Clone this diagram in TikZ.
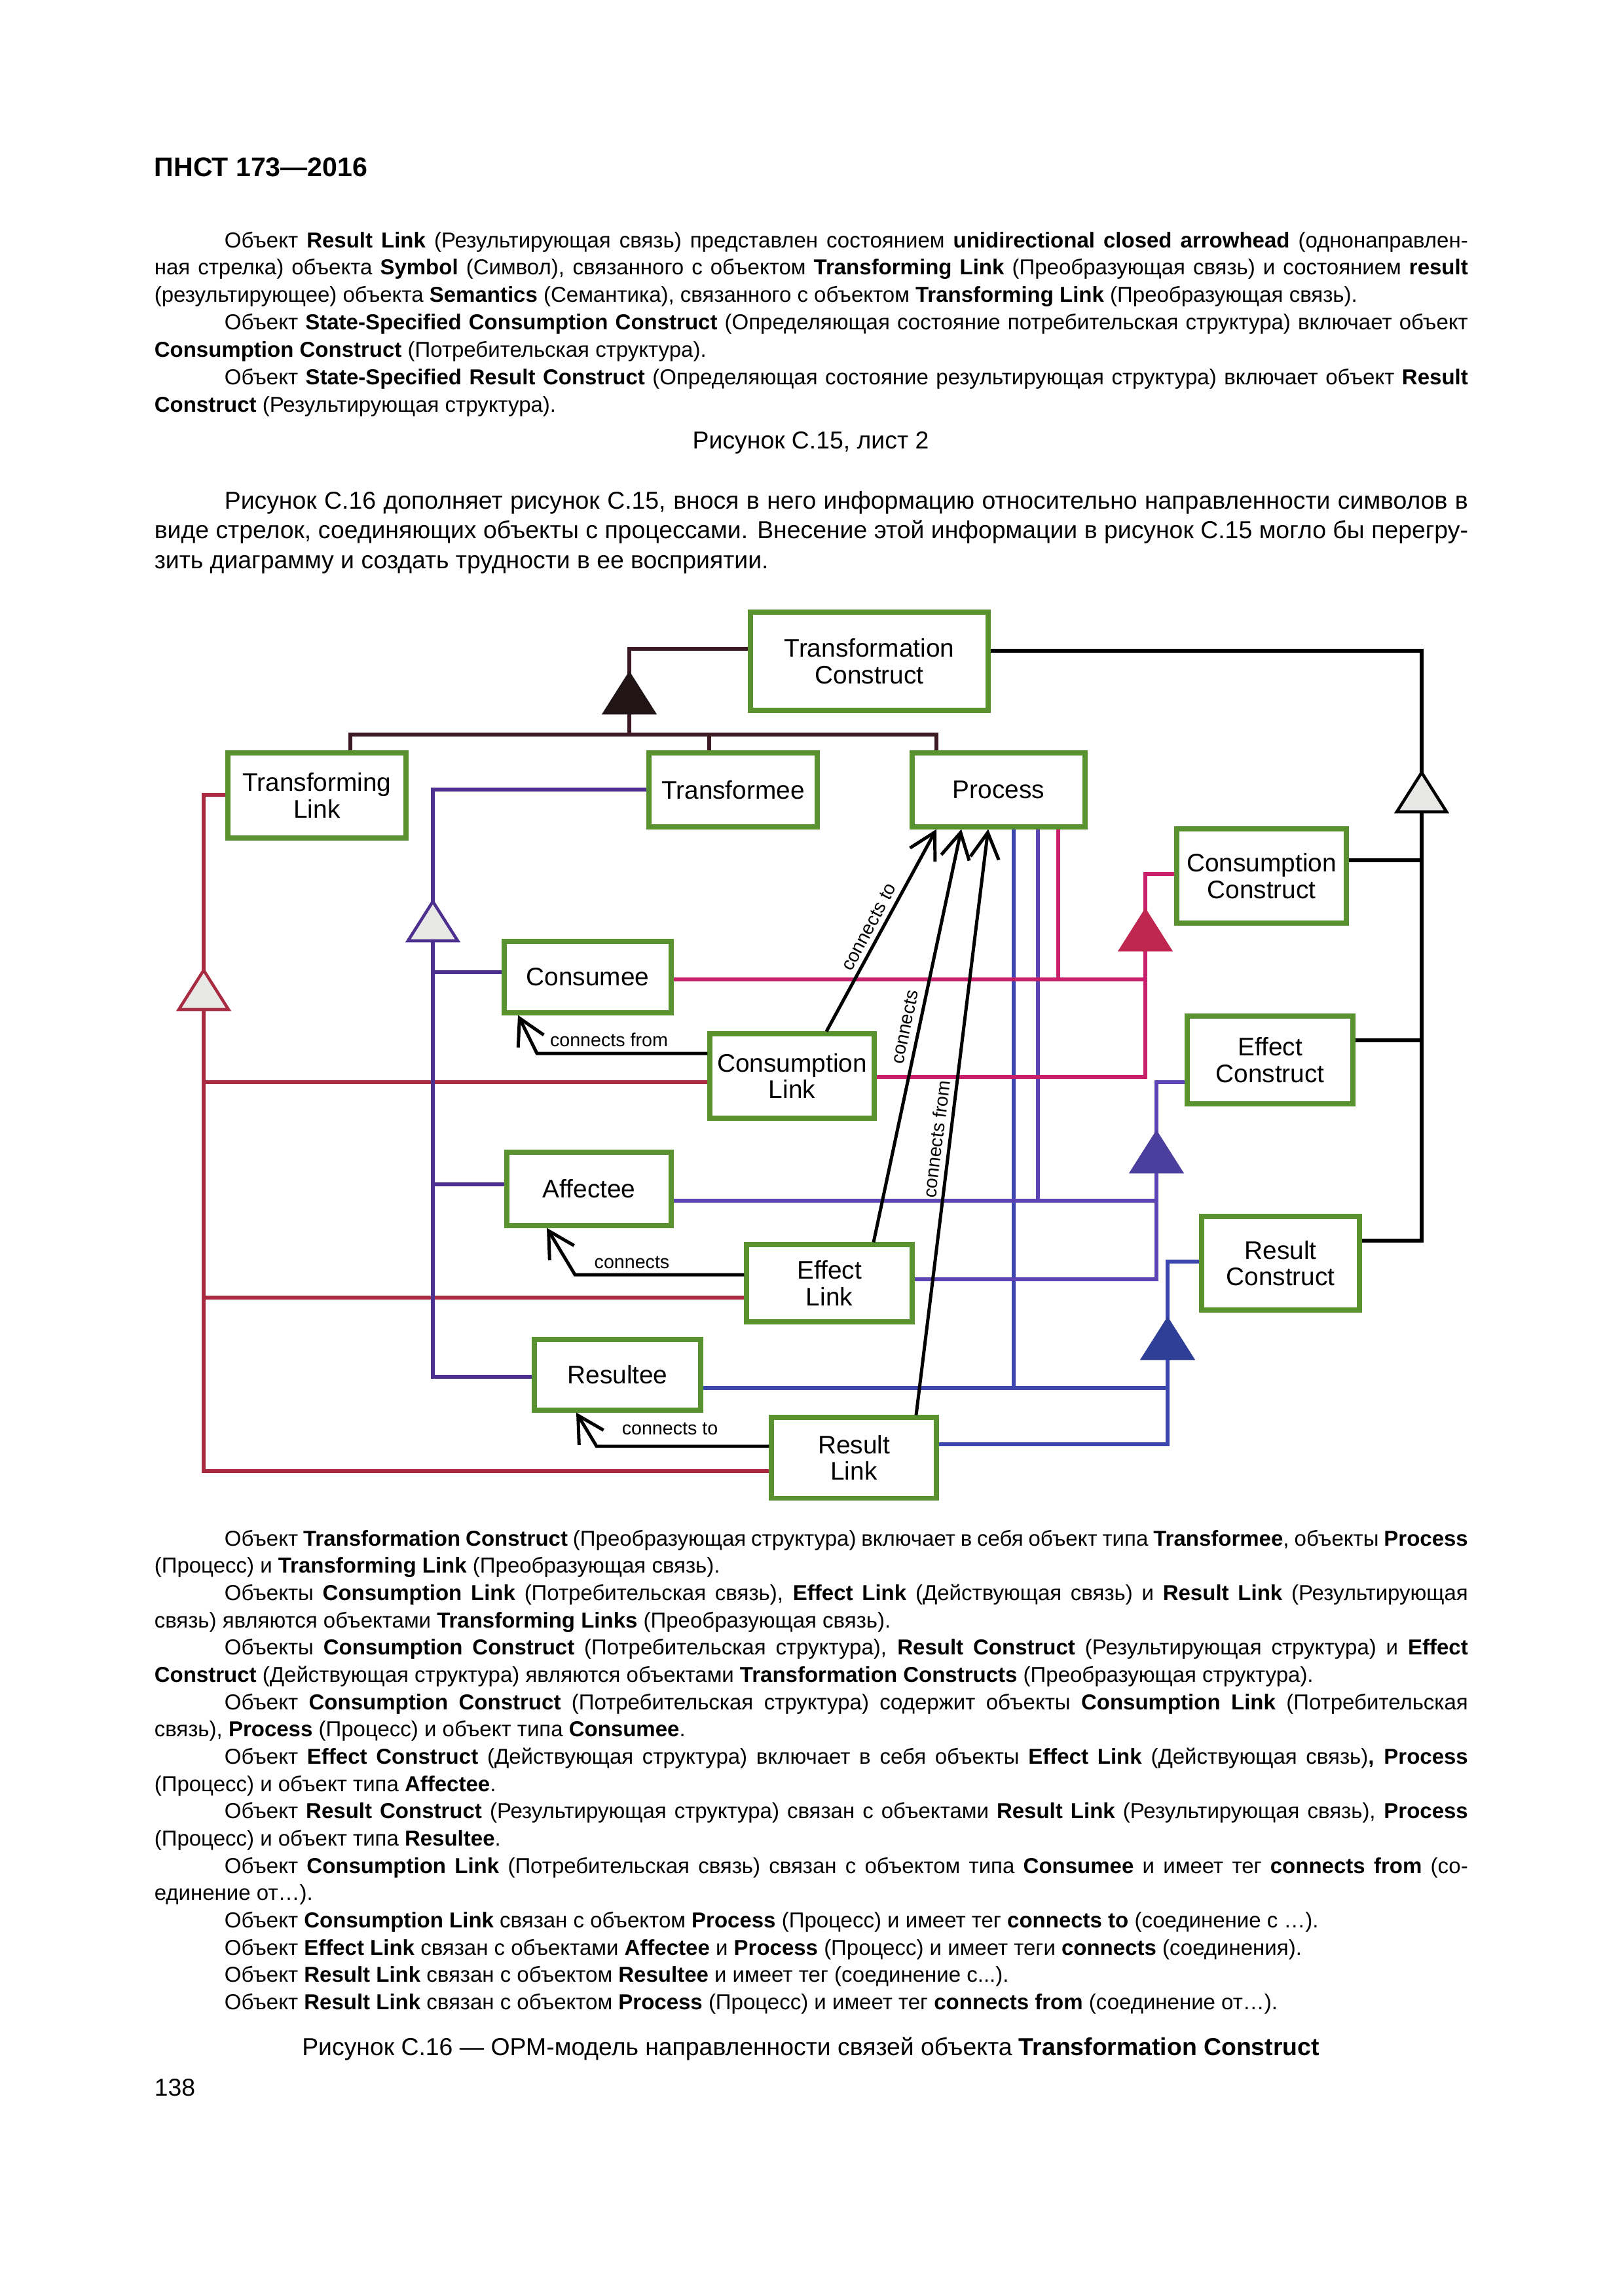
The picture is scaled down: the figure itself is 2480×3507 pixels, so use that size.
\documentclass[tikz,border=0pt]{standalone}
\usepackage{fontspec}
\setmainfont{Liberation Sans}
\usetikzlibrary{arrows.meta}
\newdimen\pxu \pxu=0.24090pt
\newdimen\TW \TW=2006\pxu
\newcommand\PX[1]{\the\dimexpr #1\pxu\relax}
\newcommand\J[1]{\hbox to\TW{#1}}
\newcommand\N[1]{\hbox{#1}}
\newcommand\I{\hskip 107\pxu}
\definecolor{boxgreen}{HTML}{5A9230}
\definecolor{maroonC}{HTML}{3C1A24}
\definecolor{blackF}{HTML}{201416}
\definecolor{redC}{HTML}{A92B42}
\definecolor{purpC}{HTML}{4C2F8E}
\definecolor{pinkC}{HTML}{C9206B}
\definecolor{pinkF}{HTML}{BF2650}
\definecolor{effC}{HTML}{5C44B2}
\definecolor{effF}{HTML}{4B3E9D}
\definecolor{resC}{HTML}{3B46AE}
\definecolor{resF}{HTML}{2F3E97}
\definecolor{triF}{HTML}{E8E8E6}
\newcommand\tri[3]{\filldraw[line width=1.1pt, line join=miter, draw=#2, fill=#3] (#1) -- ++(-38,60) -- ++(76,0) -- cycle;}
\begin{document}
\begin{tikzpicture}[x=0.2409pt, y=-0.2409pt,
 obox/.style={draw=boxgreen, line width=1.7pt, fill=white, inner sep=0pt, align=center, font=\fontsize{9.35}{9.8}\selectfont},
 ln/.style={line width=1.3pt},
 arr/.style={line width=1.2pt, black, -{Straight Barb[length=9.5pt,width=10.5pt]}},
 lbl/.style={inner sep=0pt, font=\fontsize{6.9}{8}\selectfont},
 txt/.style={inner sep=0pt, anchor=base west}]
\fill[white] (0,0) rectangle (2480,3507);
\useasboundingbox (0,0) rectangle (2480,3507);

% ---------- page text ----------
\node[txt, font=\bfseries\fontsize{9.9}{11}\selectfont] (head) at (235,269) {ПНСТ 173—2016};

\node[txt, font=\fontsize{7.95}{10.1}\selectfont] (ptop) at (235,378) {\vtop{%
\J{\I Объект \textbf{Result Link} (Результирующая связь) представлен состоянием \textbf{unidirectional closed arrowhead} (однонаправлен-}
\J{ная стрелка) объекта \textbf{Symbol} (Символ), связанного с объектом \textbf{Transforming Link} (Преобразующая связь) и состоянием \textbf{result}}
\N{(результирующее) объекта \textbf{Semantics} (Семантика), связанного с объектом \textbf{Transforming Link} (Преобразующая связь).}
\J{\I Объект \textbf{State-Specified Consumption Construct} (Определяющая состояние потребительская структура) включает объект}
\N{\textbf{Consumption Construct} (Потребительская структура).}
\J{\I Объект \textbf{State-Specified Result Construct} (Определяющая состояние результирующая структура) включает объект \textbf{Result}}
\N{\textbf{Construct} (Результирующая структура).}%
}};

\node[inner sep=0pt, anchor=base, font=\fontsize{9}{11}\selectfont] (cap15) at (1238,685) {Рисунок С.15, лист 2};

\node[txt, font=\fontsize{9}{11}\selectfont] (p4) at (235,777) {\vtop{%
\J{\I Рисунок С.16 дополняет рисунок С.15, внося в него информацию относительно направленности символов в}
\J{виде стрелок, соединяющих объекты с процессами. Внесение этой информации в рисунок С.15 могло бы перегру-}
\N{зить диаграмму и создать трудности в ее восприятии.}%
}};

\node[txt, font=\fontsize{7.95}{10.04}\selectfont] (pbot) at (235,2361) {\vtop{%
\J{\I Объект \textbf{Transformation Construct} (Преобразующая структура) включает в себя объект типа \textbf{Transformee}, объекты \textbf{Process}}
\N{(Процесс) и \textbf{Transforming Link} (Преобразующая связь).}
\J{\I Объекты \textbf{Consumption Link} (Потребительская связь), \textbf{Effect Link} (Действующая связь) и \textbf{Result Link} (Результирующая}
\N{связь) являются объектами \textbf{Transforming Links} (Преобразующая связь).}
\J{\I Объекты \textbf{Consumption Construct} (Потребительская структура), \textbf{Result Construct} (Результирующая структура) и \textbf{Effect}}
\N{\textbf{Construct} (Действующая структура) являются объектами \textbf{Transformation Constructs} (Преобразующая структура).}
\J{\I Объект \textbf{Consumption Construct} (Потребительская структура) содержит объекты \textbf{Consumption Link} (Потребительская}
\N{связь), \textbf{Process} (Процесс) и объект типа \textbf{Consumee}.}
\J{\I Объект \textbf{Effect Construct} (Действующая структура) включает в себя объекты \textbf{Effect Link} (Действующая связь)\textbf{, Process}}
\N{(Процесс) и объект типа \textbf{Affectee}.}
\J{\I Объект \textbf{Result Construct} (Результирующая структура) связан с объектами \textbf{Result Link} (Результирующая связь), \textbf{Process}}
\N{(Процесс) и объект типа \textbf{Resultee}.}
\J{\I Объект \textbf{Consumption Link} (Потребительская связь) связан с объектом типа \textbf{Consumee} и имеет тег \textbf{connects from} (со-}
\N{единение от…).}
\N{\I Объект \textbf{Consumption Link} связан с объектом \textbf{Process} (Процесс) и имеет тег \textbf{connects to} (соединение с …).}
\N{\I Объект \textbf{Effect Link} связан с объектами \textbf{Affectee} и \textbf{Process} (Процесс) и имеет теги \textbf{connects} (соединения).}
\N{\I Объект \textbf{Result Link} связан с объектом \textbf{Resultee} и имеет тег (соединение с...).}
\N{\I Объект \textbf{Result Link} связан с объектом \textbf{Process} (Процесс) и имеет тег \textbf{connects from} (соединение от…).}%
}};

\node[inner sep=0pt, anchor=base, font=\fontsize{9}{11}\selectfont] (cap16) at (1238,3139) {Рисунок С.16 — ОРМ-модель направленности связей объекта \textbf{Transformation Construct}};
\node[txt, font=\fontsize{9}{11}\selectfont] (pgno) at (235,3201) {138};

% ---------- boxes ----------
\node[obox, minimum width=\PX{363}, minimum height=\PX{150}] (TC) at (1327.5,1010) {Transformation\\Construct};
\node[obox, minimum width=\PX{272}, minimum height=\PX{130}] (TL) at (484,1215) {Transforming\\Link};
\node[obox, minimum width=\PX{257}, minimum height=\PX{113}] (Tfe) at (1119.5,1206.5) {Transformee};
\node[obox, minimum width=\PX{264}, minimum height=\PX{113}] (P) at (1525,1206.5) {Process};
\node[obox, minimum width=\PX{259}, minimum height=\PX{144}] (CC) at (1926.5,1338) {Consumption\\Construct};
\node[obox, minimum width=\PX{253}, minimum height=\PX{134}] (EC) at (1939.5,1619) {Effect\\Construct};
\node[obox, minimum width=\PX{241}, minimum height=\PX{143}] (RC) at (1955.5,1929.5) {Result\\Construct};
\node[obox, minimum width=\PX{255}, minimum height=\PX{109}] (Cme) at (897.5,1492.5) {Consumee};
\node[obox, minimum width=\PX{251}, minimum height=\PX{129}] (CL) at (1209.5,1643.5) {Consumption\\Link};
\node[obox, minimum width=\PX{251}, minimum height=\PX{112}] (Afe) at (899.5,1816) {Affectee};
\node[obox, minimum width=\PX{253}, minimum height=\PX{118}] (EL) at (1266.5,1960) {Effect\\Link};
\node[obox, minimum width=\PX{254}, minimum height=\PX{108}] (Rte) at (943,2100) {Resultee};
\node[obox, minimum width=\PX{252}, minimum height=\PX{123}] (RL) at (1304,2226.5) {Result\\Link};

% ---------- junction coordinates ----------
\coordinate (tj) at (961,991);   \coordinate (ta) at (961,1029);
\coordinate (tb) at (961,1089);  \coordinate (hb) at (961,1122);
\coordinate (tlj) at (535,1122); \coordinate (tfj) at (1083,1122); \coordinate (prj) at (1430,1122);

\coordinate (rj) at (2171,994);  \coordinate (ra) at (2171,1180); \coordinate (rb) at (2171,1240);
\coordinate (rv1) at (2171,1314); \coordinate (rv2) at (2171,1589); \coordinate (rv3) at (2171,1895);

\coordinate (rdj) at (311,1214); \coordinate (rda) at (311,1482); \coordinate (rdb) at (311,1542);
\coordinate (rd1) at (311,1653); \coordinate (rd2) at (311,1982); \coordinate (rd3) at (311,2247);

\coordinate (pj) at (661,1206);  \coordinate (pa) at (661,1377); \coordinate (pb) at (661,1437);
\coordinate (pv1) at (661,1485); \coordinate (pv2) at (661,1809); \coordinate (pv3) at (661,2103);

\coordinate (cj) at (1749,1335); \coordinate (ca) at (1749,1391); \coordinate (cb) at (1749,1451);
\coordinate (ch) at (1749,1496); \coordinate (cl) at (1749,1645); \coordinate (cpx) at (1616,1496);

\coordinate (ej) at (1766,1653); \coordinate (ea) at (1766,1730); \coordinate (eb) at (1766,1790);
\coordinate (eh) at (1766,1834); \coordinate (el) at (1766,1954); \coordinate (epx) at (1585,1834);

\coordinate (sj) at (1783,1927); \coordinate (sa) at (1783,2015); \coordinate (sb) at (1783,2075);
\coordinate (sh) at (1783,2120); \coordinate (sl) at (1783,2206); \coordinate (spx) at (1548,2120);

% ---------- coloured structure lines ----------
\draw[ln, maroonC] (TC.west |- tj) -- (tj) -- (ta);
\draw[ln, maroonC] (tb) -- (hb);
\draw[ln, maroonC] (tlj |- TL.north) -- (tlj) -- (prj) -- (prj |- P.north);
\draw[ln, maroonC] (tfj) -- (tfj |- Tfe.north);

\draw[ln, black] (TC.east |- rj) -- (rj) -- (ra);
\draw[ln, black] (rb) -- (rv3) -- (RC.east |- rv3);
\draw[ln, black] (rv1) -- (CC.east |- rv1);
\draw[ln, black] (rv2) -- (EC.east |- rv2);

\draw[ln, redC] (TL.west |- rdj) -- (rdj) -- (rda);
\draw[ln, redC] (rdb) -- (rd3) -- (RL.west |- rd3);
\draw[ln, redC] (rd1) -- (CL.west |- rd1);
\draw[ln, redC] (rd2) -- (EL.west |- rd2);

\draw[ln, purpC] (Tfe.west |- pj) -- (pj) -- (pa);
\draw[ln, purpC] (pb) -- (pv3) -- (Rte.west |- pv3);
\draw[ln, purpC] (pv1) -- (Cme.west |- pv1);
\draw[ln, purpC] (pv2) -- (Afe.west |- pv2);

\draw[ln, resC] (RC.west |- sj) -- (sj) -- (sa);
\draw[ln, resC] (sb) -- (sl) -- (RL.east |- sl);
\draw[ln, resC] (Rte.east |- sh) -- (sh);
\draw[ln, resC] (spx |- P.south) -- (spx);

\draw[ln, effC] (EC.west |- ej) -- (ej) -- (ea);
\draw[ln, effC] (eb) -- (el) -- (EL.east |- el);
\draw[ln, effC] (Afe.east |- eh) -- (eh);
\draw[ln, effC] (epx |- P.south) -- (epx);

\draw[ln, pinkC] (CC.west |- cj) -- (cj) -- (ca);
\draw[ln, pinkC] (cb) -- (cl) -- (CL.east |- cl);
\draw[ln, pinkC] (Cme.east |- ch) -- (ch);
\draw[ln, pinkC] (cpx |- P.south) -- (cpx);

% ---------- triangles ----------
\tri{ta}{blackF}{blackF}
\tri{ra}{black}{triF}
\tri{rda}{redC}{triF}
\tri{pa}{purpC}{triF}
\tri{ca}{pinkF}{pinkF}
\tri{ea}{effF}{effF}
\tri{sa}{resF}{resF}

% ---------- black tagged links ----------
\coordinate (cf1) at (820,1609); \coordinate (cf2) at (791,1547);
\draw[arr] (CL.west |- cf1) -- (cf1) -- (cf2 |- Cme.south);
\node[lbl] (lcf) at (930,1588) {connects from};

\coordinate (cn1) at (878,1947); \coordinate (cn2) at (835,1872);
\draw[arr] (EL.west |- cn1) -- (cn1) -- (cn2 |- Afe.south);
\node[lbl] (lcn) at (965,1928) {connects};

\coordinate (ct1) at (911,2209); \coordinate (ct2) at (880,2154);
\draw[arr] (RL.west |- ct1) -- (ct1) -- (ct2 |- Rte.south);
\node[lbl] (lct) at (1023,2182) {connects to};

\coordinate (l1s) at (1262,0); \coordinate (l1e) at (1430,0);
\coordinate (l2s) at (1334,0); \coordinate (l2e) at (1468,0);
\coordinate (l3s) at (1399,0); \coordinate (l3e) at (1509,0);
\draw[arr] (CL.north -| l1s) -- (P.south -| l1e);
\draw[arr] (EL.north -| l2s) -- (P.south -| l2e);
\draw[arr] (RL.north -| l3s) -- (P.south -| l3e);
\node[lbl, rotate=62] (lp1) at (1327,1416) {connects to};
\node[lbl, rotate=78] (lp2) at (1382,1569) {connects};
\node[lbl, rotate=83] (lp3) at (1430,1740) {connects from};
\end{tikzpicture}
\end{document}
